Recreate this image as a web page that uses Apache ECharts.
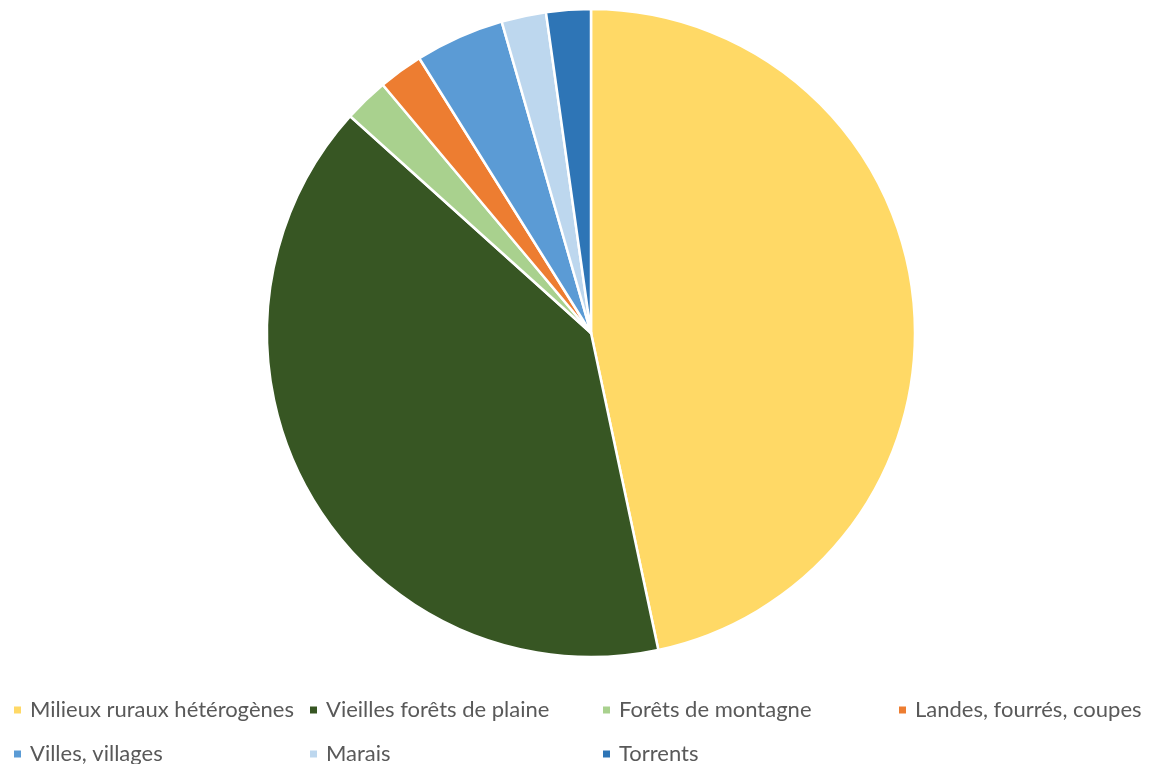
<!DOCTYPE html>
<html>
<head>
<meta charset="utf-8">
<script src="https://cdn.jsdelivr.net/npm/echarts@6/dist/echarts.min.js"></script>
<style>
    html, body {margin: 0; padding: 0; background: #fff;}
    #chart {width: 1151px; height: 764px;}
</style>
</head>
<body>
<div id="chart"></div>
<script>
// milieux et parts (en nombre d'observations)
var categories = ['Milieux ruraux hétérogènes', 'Vieilles forêts de plaine', 'Forêts de montagne',
    'Landes, fourrés, coupes', 'Villes, villages', 'Marais', 'Torrents'];
var values = [21, 18, 1, 1, 2, 1, 1];
var colors = ['#FFD966', '#375623', '#A9D18E', '#ED7D31', '#5B9BD5', '#BDD7EE', '#2E75B6'];

// position de chaque entrée de légende (grille 4 colonnes)
var legendPos = [[12, 699], [308, 699], [601, 699], [897, 699], [12, 743], [308, 743], [601, 743]];

var myChart = echarts.init(document.getElementById('chart'));

var legends = categories.map(function (name, i) {
    return {
        data: [name],
        left: legendPos[i][0],
        top: legendPos[i][1],
        padding: 0,
        icon: 'rect',
        itemWidth: 9,
        itemHeight: 9,
        selectedMode: false,
        textStyle: {
            fontFamily: 'Lato',
            fontSize: 22,
            color: '#595959',
            padding: [0, 0, 0, 3]
        }
    };
});

myChart.setOption({
    animation: false,
    color: colors,
    legend: legends,
    series: [{
        type: 'pie',
        center: [591, 333],
        radius: 324,
        startAngle: 90,
        clockwise: true,
        label: {show: false},
        labelLine: {show: false},
        itemStyle: {borderColor: '#fff', borderWidth: 2.5},
        emphasis: {disabled: true},
        data: categories.map(function (name, i) {
            return {name: name, value: values[i]};
        })
    }]
});
</script>
</body>
</html>
